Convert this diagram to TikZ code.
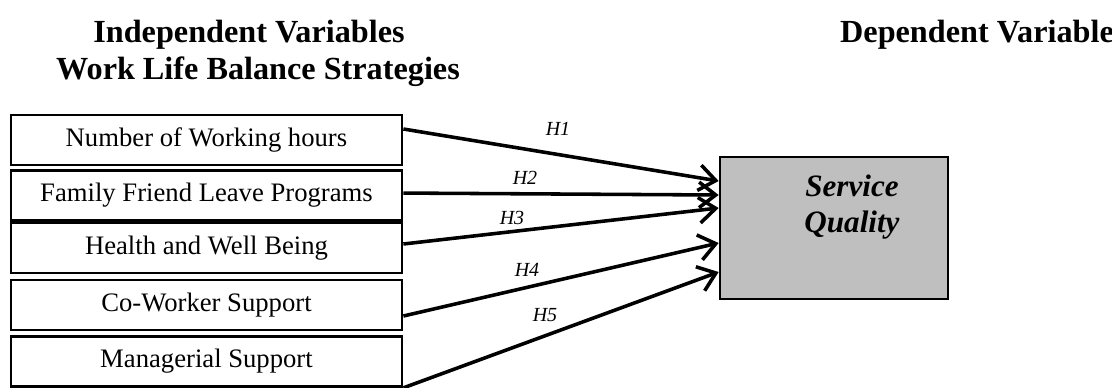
\documentclass[tikz,border=0pt]{standalone}
\usepackage{fontspec}
\setmainfont{Liberation Serif}
\usepackage{tikz}
\usetikzlibrary{arrows.meta, positioning}
\definecolor{qualitygray}{RGB}{191, 191, 191}

\begin{document}
\begin{tikzpicture}[
    x=0.45pt, y=-0.45pt,
    ivbox/.style={rectangle, draw=black, line width=1.2pt, fill=white,
                minimum width=176pt, minimum height=22.5pt, inner sep=0pt,
                font=\fontsize{12}{14}\selectfont},
    dvbox/.style={rectangle, draw=black, line width=1.2pt, fill=qualitygray,
                minimum width=102.6pt, minimum height=63.9pt, inner sep=0pt},
    title/.style={font=\fontsize{14.5}{16}\selectfont\bfseries, inner sep=0pt},
    hyp/.style={font=\fontsize{9}{10}\selectfont\itshape, inner sep=0pt},
    arr/.style={-{Straight Barb[length=7.5pt,width=11.5pt]}, line width=1.6pt}
]
\useasboundingbox (0,0) rectangle (1112,387);

\node[title] (indep)  at (249,35)  {Independent Variables};
\node[title] (wlb)    at (258,72)  {Work Life Balance Strategies};
\node[title] (dep)    at (977,35)  {Dependent Variable};

\node[ivbox] (hours)   at (206.5,140)   {Number of Working hours};
\node[ivbox] (leave)   at (206.5,195.5) {Family Friend Leave Programs};
\node[ivbox] (health)  at (206.5,248)   {Health and Well Being};
\node[ivbox] (cowork)  at (206.5,305)   {Co-Worker Support};
\node[ivbox] (manager) at (206.5,361.5) {Managerial Support};

\node[dvbox] (sq) at (834,228) {};
\node[font=\fontsize{14}{16.5}\selectfont\bfseries\itshape, align=center, inner sep=0pt]
    (sqtext) at (852,207) {Service\\Quality};

\draw[arr] ([yshift=4.95pt]hours.east)  -- ([yshift=21.15pt]sq.west);
\draw[arr] ([yshift=1.1pt]leave.east)   -- ([yshift=14.85pt]sq.west);
\draw[arr] ([yshift=1.8pt]health.east)  -- ([yshift=9pt]sq.west);
\draw[arr] ([yshift=-4.95pt]cowork.east) -- ([yshift=-6.75pt]sq.west);
\draw[arr] (manager.south east)         -- ([yshift=-19.8pt]sq.west);

\node[hyp] (h1) at (558,129) {H1};
\node[hyp] (h2) at (525,178) {H2};
\node[hyp] (h3) at (512,218) {H3};
\node[hyp] (h4) at (527,270) {H4};
\node[hyp] (h5) at (545,315) {H5};

\end{tikzpicture}
\end{document}
